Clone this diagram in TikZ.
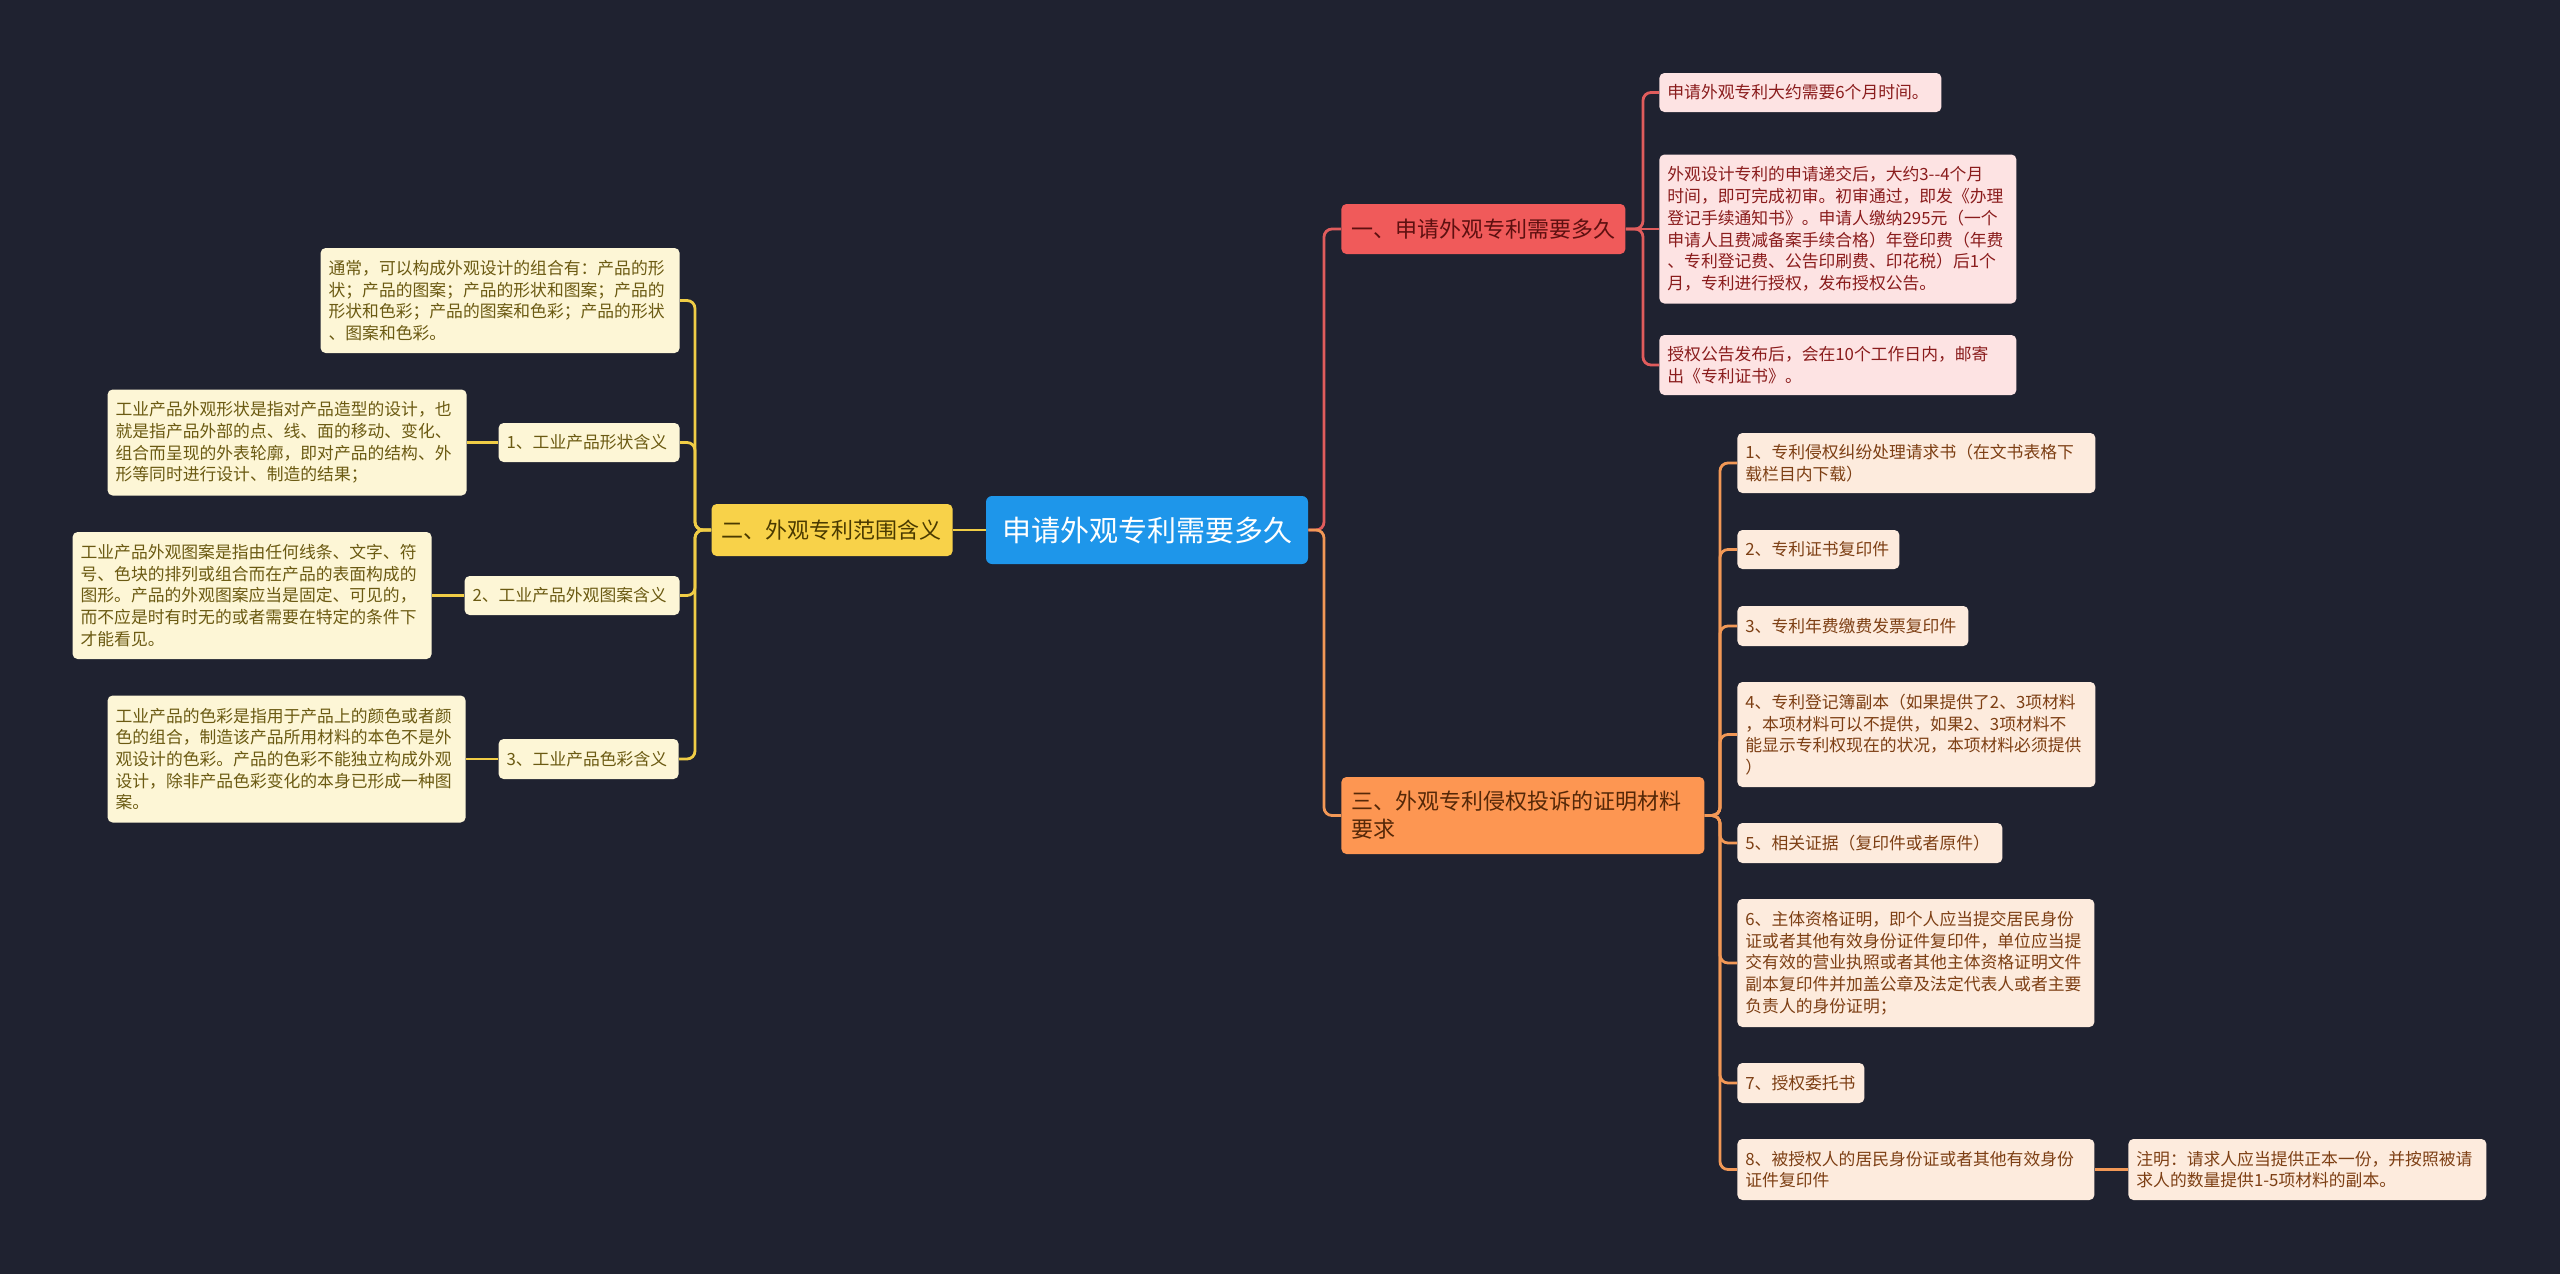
\documentclass[tikz,border=0pt]{standalone}
\usepackage{fontspec}
\newfontfamily\cjk{Noto Sans CJK SC}

\definecolor{bgcol}{HTML}{1F2230}
\definecolor{rootblue}{HTML}{1E96EA}
\definecolor{topicred}{HTML}{F05A5A}
\definecolor{topicyellow}{HTML}{F8D249}
\definecolor{topicorange}{HTML}{FD9652}
\definecolor{leafred}{HTML}{FDE3E3}
\definecolor{leafyellow}{HTML}{FDF6D6}
\definecolor{leaforange}{HTML}{FDEBDD}
\definecolor{txtred}{HTML}{8A1C1C}
\definecolor{txtyellow}{HTML}{6B5A12}
\definecolor{txtorange}{HTML}{7D3F14}
\definecolor{darkred}{HTML}{5E1010}
\definecolor{darkyellow}{HTML}{4A3A00}
\definecolor{darkorange}{HTML}{552808}
\definecolor{linered}{HTML}{E05C5C}
\definecolor{lineyellow}{HTML}{F0CD46}
\definecolor{lineorange}{HTML}{F29856}

\tikzset{
  box/.style={rounded corners=2.5pt, inner xsep=4pt, inner ysep=1pt, align=left, anchor=west},
  leafR/.style={box, fill=leafred, text=txtred, font=\cjk\fontsize{8.4}{10.85}\selectfont},
  leafY/.style={box, fill=leafyellow, text=txtyellow, font=\cjk\fontsize{8.4}{10.85}\selectfont},
  leafO/.style={box, fill=leaforange, text=txtorange, font=\cjk\fontsize{8.4}{10.85}\selectfont},
  topic/.style={box, inner xsep=5pt, font=\cjk\fontsize{11}{14}\selectfont},
  rootbox/.style={rounded corners=3pt, fill=rootblue, text=white, align=center,
    font=\cjk\fontsize{14.5}{17}\selectfont},
  conn/.style={line width=1.4pt, rounded corners=4pt}
}

\begin{document}
\begin{tikzpicture}[x=0.5pt,y=-0.5pt]
\fill[bgcol] (0,0) rectangle (2560,1274);
\useasboundingbox (0,0) rectangle (2560,1274);

\node[rootbox, minimum width=161pt, minimum height=34pt] (root) at (1147,530) {申请外观专利需要多久};

\node[topic, fill=topicred, text=darkred, text width=132pt, minimum height=25pt] (br1) at (1341,229) {一、申请外观专利需要多久};
\node[topic, fill=topicyellow, text=darkyellow, anchor=east, text width=110.5pt, minimum height=26pt] (br2) at (953,530) {二、外观专利范围含义};
\node[topic, fill=topicorange, text=darkorange, text width=171.5pt, minimum height=38.5pt] (br3) at (1341,815.5) {三、外观专利侵权投诉的证明材料\\要求};

\node[leafR, text width=133pt, minimum height=19.5pt] (l1a) at (1659,92.5) {申请外观专利大约需要6个月时间。};
\node[leafR, text width=170.5pt, minimum height=74.5pt] (l1b) at (1659,229) {外观设计专利的申请递交后，大约3--4个月\\时间，即可完成初审。初审通过，即发《办理\\登记手续通知书》。申请人缴纳295元（一个\\申请人且费减备案手续合格）年登印费（年费\\、专利登记费、公告印刷费、印花税）后1个\\月，专利进行授权，发布授权公告。};
\node[leafR, text width=170.5pt, minimum height=30pt] (l1c) at (1659,365) {授权公告发布后，会在10个工作日内，邮寄\\出《专利证书》。};

\node[leafO, text width=171pt, minimum height=30pt] (b1) at (1737,463) {1、专利侵权纠纷处理请求书（在文书表格下\\载栏目内下载）};
\node[leafO, text width=73pt, minimum height=19.5pt] (b2) at (1737,549.5) {2、专利证书复印件};
\node[leafO, text width=107.5pt, minimum height=20pt] (b3) at (1737,626) {3、专利年费缴费发票复印件};
\node[leafO, text width=171pt, minimum height=52.5pt] (b4) at (1737,734.5) {4、专利登记簿副本（如果提供了2、3项材料\\，本项材料可以不提供，如果2、3项材料不\\能显示专利权现在的状况，本项材料必须提供\\）};
\node[leafO, text width=124.5pt, minimum height=20pt] (b5) at (1737,843) {5、相关证据（复印件或者原件）};
\node[leafO, text width=170.5pt, minimum height=64pt] (b6) at (1737,963) {6、主体资格证明，即个人应当提交居民身份\\证或者其他有效身份证件复印件，单位应当提\\交有效的营业执照或者其他主体资格证明文件\\副本复印件并加盖公章及法定代表人或者主要\\负责人的身份证明；};
\node[leafO, text width=55.5pt, minimum height=20pt] (b7) at (1737,1083) {7、授权委托书};
\node[leafO, text width=170.5pt, minimum height=30.5pt] (b8) at (1737,1169.5) {8、被授权人的居民身份证或者其他有效身份\\证件复印件};
\node[leafO, text width=171pt, minimum height=30.5pt] (note) at (2128,1169.5) {注明：请求人应当提供正本一份，并按照被请\\求人的数量提供1-5项材料的副本。};

\node[leafY, anchor=east, text width=171.5pt, minimum height=52.5pt] (a0) at (680,300.5) {通常，可以构成外观设计的组合有：产品的形\\状；产品的图案；产品的形状和图案；产品的\\形状和色彩；产品的图案和色彩；产品的形状\\、图案和色彩。};
\node[leafY, anchor=east, text width=82.5pt, minimum height=19.5pt] (a1l) at (680,442.5) {1、工业产品形状含义};
\node[leafY, anchor=east, text width=171.5pt, minimum height=53pt] (a1d) at (467,442.5) {工业产品外观形状是指对产品造型的设计，也\\就是指产品外部的点、线、面的移动、变化、\\组合而呈现的外表轮廓，即对产品的结构、外\\形等同时进行设计、制造的结果；};
\node[leafY, anchor=east, text width=99.5pt, minimum height=19.5pt] (a2l) at (680,595.5) {2、工业产品外观图案含义};
\node[leafY, anchor=east, text width=171.5pt, minimum height=63.5pt] (a2d) at (432,595.5) {工业产品外观图案是指由任何线条、文字、符\\号、色块的排列或组合而在产品的表面构成的\\图形。产品的外观图案应当是固定、可见的，\\而不应是时有时无的或者需要在特定的条件下\\才能看见。};
\node[leafY, anchor=east, text width=82pt, minimum height=20pt] (a3l) at (679,759) {3、工业产品色彩含义};
\node[leafY, anchor=east, text width=171pt, minimum height=63.5pt] (a3d) at (466,759) {工业产品的色彩是指用于产品上的颜色或者颜\\色的组合，制造该产品所用材料的本色不是外\\观设计的色彩。产品的色彩不能独立构成外观\\设计，除非产品色彩变化的本身已形成一种图\\案。};

\coordinate (tr) at (1324,530);
\coordinate (t1) at (1643,229);
\coordinate (t3) at (1720,815.5);
\coordinate (t2) at (695,530);

\draw[conn, linered] (root.east) -- (tr) |- (br1.west);
\draw[conn, lineorange] (root.east) -- (tr) |- (br3.west);
\draw[conn, lineyellow] (root.west) -- (br2.east);

\foreach \n in {l1a,l1c}
  \draw[conn, linered] (br1.east) -- (t1) |- (\n.west);
\draw[conn, linered] (br1.east) -- (l1b.west);

\foreach \n in {b1,b2,b3,b4,b5,b6,b7,b8}
  \draw[conn, lineorange] (br3.east) -- (t3) |- (\n.west);
\draw[conn, lineorange] (b8.east) -- (note.west);

\foreach \n in {a0,a1l,a2l,a3l}
  \draw[conn, lineyellow] (br2.west) -- (t2) |- (\n.east);
\draw[conn, lineyellow] (a1l.west) -- (a1d.east);
\draw[conn, lineyellow] (a2l.west) -- (a2d.east);
\draw[conn, lineyellow] (a3l.west) -- (a3d.east);
\end{tikzpicture}
\end{document}
